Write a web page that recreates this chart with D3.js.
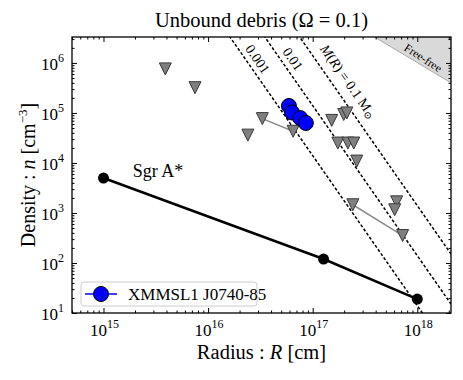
<!DOCTYPE html>
<html>
<head>
<meta charset="utf-8">
<script src="https://cdn.jsdelivr.net/npm/d3@7"></script>
<style>
  body { margin: 0; background: #fff; }
  text { font-family: "Liberation Serif", "DejaVu Serif", serif; }
</style>
</head>
<body>
<div id="chart"></div>
<script>
// Sgr A* density profile
var sgrR = [1e15, 1.27e17, 1e18];
var sgrN = [5e3, 120, 19];

// XMMSL1 J0740-85 points
var xmmR = [5.93e16, 6.34e16, 7.6e16, 8.6e16];
var xmmN = [1.38e5, 1.02e5, 7.9e4, 6.3e4];

// other TDEs (upper limits, grey triangles)
var limR = [3.9e15, 7.5e15, 2.4e16, 3.3e16, 6.5e16, 1.52e17, 1.98e17, 2.12e17,
            1.74e17, 2.17e17, 2.47e17, 2.64e17, 2.42e17, 7.24e17, 6.35e17, 6.08e17];
var limN = [7.6e5, 3.2e5, 3.6e4, 7.7e4, 4.3e4, 7.1e4, 9.3e4, 1.0e5,
            2.5e4, 2.5e4, 2.5e4, 1.09e4, 1.46e3, 354, 1.67e3, 1.16e3];
// pairs of triangles joined by a grey line (indices into limR/limN)
var limPairs = [[3, 4], [12, 13]];

// constant-mass lines, n at R = 1e17 cm (slope -3)
var massLabels = ["0.001", "0.01", "0.1"];
var massN17 = [1.4e4, 1.4e5, 1.4e6];
var massLabelR = [2.9e16, 6.3e16, 2.12e17];
var massLabelN = [1.15e6, 1.15e6, 4.1e5];

// free-free boundary
var ffR = [3.9e17, 2.1e18];
var ffN = [3.3e6, 4.0e5];

var xTicks = [1e15, 1e16, 1e17, 1e18];
var yTicks = [1e1, 1e2, 1e3, 1e4, 1e5, 1e6];

var ctx = {
    w: 463,
    h: 380,
    left: 72,
    right: 451,
    top: 37,
    bottom: 313,
};

var x = d3.scaleLog().domain([5e14, 2.1e18]).range([ctx.left, ctx.right]);
var y = d3.scaleLog().domain([10, 3.3e6]).range([ctx.bottom, ctx.top]);

var svg = d3.select("#chart").append("svg")
    .attr("width", ctx.w)
    .attr("height", ctx.h);

svg.append("defs").append("clipPath").attr("id", "plotclip")
    .append("rect")
    .attr("x", ctx.left).attr("y", ctx.top)
    .attr("width", ctx.right - ctx.left).attr("height", ctx.bottom - ctx.top);

var plot = svg.append("g").attr("clip-path", "url(#plotclip)");

// free-free shaded region
var dom = x.domain(), ydom = y.domain();
plot.append("path")
    .attr("d", "M" + x(ffR[0]) + "," + y(ffN[0]) +
               "L" + x(ffR[1]) + "," + y(ffN[1]) +
               "L" + x(ffR[1]) + "," + y(ydom[1]) + "Z")
    .attr("fill", "#d9d9d9")
    .attr("stroke", "#a8a8a8")
    .attr("stroke-width", 1);

plot.append("text")
    .attr("transform", "translate(" + x(1.12e18) + "," + y(1.2e6) + ") rotate(33)")
    .attr("text-anchor", "middle")
    .attr("dominant-baseline", "middle")
    .attr("font-size", "11.5px")
    .text("Free-free");

// constant-mass dashed lines
massN17.forEach(function(n17) {
    var r0 = dom[0], r1 = dom[1];
    plot.append("line")
        .attr("x1", x(r0)).attr("y1", y(n17 * Math.pow(r0 / 1e17, -3)))
        .attr("x2", x(r1)).attr("y2", y(n17 * Math.pow(r1 / 1e17, -3)))
        .attr("stroke", "black")
        .attr("stroke-width", 1.5)
        .attr("stroke-dasharray", "3,2");
});

massLabels.forEach(function(lab, i) {
    var t = svg.append("text")
        .attr("transform", "translate(" + x(massLabelR[i]) + "," + y(massLabelN[i]) + ") rotate(55)")
        .attr("text-anchor", "middle")
        .attr("dominant-baseline", "middle")
        .attr("font-size", "14px");
    if (i < 2) {
        t.text(lab);
    } else {
        t.append("tspan").attr("font-style", "italic").text("M");
        t.append("tspan").text("(");
        t.append("tspan").attr("font-style", "italic").text("R");
        t.append("tspan").text(") = 0.1 M");
        t.append("tspan").attr("font-size", "10px").attr("dy", 3).text("\u2299");
    }
});

// grey joining lines
limPairs.forEach(function(p) {
    plot.append("line")
        .attr("x1", x(limR[p[0]])).attr("y1", y(limN[p[0]]))
        .attr("x2", x(limR[p[1]])).attr("y2", y(limN[p[1]]))
        .attr("stroke", "#8c8c8c")
        .attr("stroke-width", 1.5);
});

// triangles (pointing down)
var tri = "M-6,-6L6,-6L0,6Z";
plot.selectAll(".lim")
    .data(d3.range(limR.length))
    .enter()
    .append("path")
    .attr("class", "lim")
    .attr("d", tri)
    .attr("transform", function(i) {
        return "translate(" + x(limR[i]) + "," + y(limN[i]) + ")";
    })
    .attr("fill", "#7f7f7f")
    .attr("stroke", "#3a3a3a")
    .attr("stroke-width", 1);

// Sgr A*
var sgrLine = d3.line().x(function(i) { return x(sgrR[i]); }).y(function(i) { return y(sgrN[i]); });
plot.append("path")
    .attr("d", sgrLine(d3.range(sgrR.length)))
    .attr("fill", "none")
    .attr("stroke", "black")
    .attr("stroke-width", 2.5);
plot.selectAll(".sgr")
    .data(d3.range(sgrR.length))
    .enter()
    .append("circle")
    .attr("class", "sgr")
    .attr("cx", function(i) { return x(sgrR[i]); })
    .attr("cy", function(i) { return y(sgrN[i]); })
    .attr("r", 5.5)
    .attr("fill", "black");

svg.append("text")
    .attr("x", x(1.9e15))
    .attr("y", y(5.2e3))
    .attr("font-size", "18px")
    .text("Sgr A*");

// XMMSL1 J0740-85
var xmmLine = d3.line().x(function(i) { return x(xmmR[i]); }).y(function(i) { return y(xmmN[i]); });
plot.append("path")
    .attr("d", xmmLine(d3.range(xmmR.length)))
    .attr("fill", "none")
    .attr("stroke", "#0000ff")
    .attr("stroke-width", 1.5);
plot.selectAll(".xmm")
    .data(d3.range(xmmR.length))
    .enter()
    .append("circle")
    .attr("class", "xmm")
    .attr("cx", function(i) { return x(xmmR[i]); })
    .attr("cy", function(i) { return y(xmmN[i]); })
    .attr("r", 7.5)
    .attr("fill", "#0000ff")
    .attr("stroke", "black")
    .attr("stroke-width", 1);

// axes: inward ticks on all four sides
var minorTicks = function(domain, e0, e1) {
    var out = [];
    for (var e = e0; e <= e1; e++) {
        for (var m = 2; m <= 9; m++) {
            var v = m * Math.pow(10, e);
            if (v >= domain[0] && v <= domain[1]) out.push(v);
        }
    }
    return out;
};

var addAxis = function(gen, scale, pos, major, minor) {
    var g = svg.append("g").attr("transform", pos);
    g.call(gen(scale).tickValues(major).tickSize(-5).tickFormat(""));
    g.append("g").call(gen(scale).tickValues(minor).tickSize(-2.5).tickFormat(""));
    g.selectAll(".domain").remove();
    g.selectAll("line").attr("stroke", "black").attr("stroke-width", 1);
    return g;
};

var xMinor = minorTicks(x.domain(), 14, 18);
var yMinor = minorTicks(y.domain(), 0, 6);
addAxis(d3.axisBottom, x, "translate(0," + ctx.bottom + ")", xTicks, xMinor);
addAxis(d3.axisTop, x, "translate(0," + ctx.top + ")", xTicks, xMinor);
addAxis(d3.axisLeft, y, "translate(" + ctx.left + ",0)", yTicks, yMinor);
addAxis(d3.axisRight, y, "translate(" + ctx.right + ",0)", yTicks, yMinor);

svg.append("rect")
    .attr("x", ctx.left).attr("y", ctx.top)
    .attr("width", ctx.right - ctx.left).attr("height", ctx.bottom - ctx.top)
    .attr("fill", "none")
    .attr("stroke", "black")
    .attr("stroke-width", 1.3);

// tick labels with superscripts
xTicks.forEach(function(v) {
    var t = svg.append("text")
        .attr("x", x(v) + 1)
        .attr("y", ctx.bottom + 23)
        .attr("text-anchor", "middle")
        .attr("font-size", "17px");
    t.append("tspan").text("10");
    t.append("tspan").attr("font-size", "12px").attr("dy", -8).text(Math.round(Math.log10(v)));
});
yTicks.forEach(function(v) {
    var t = svg.append("text")
        .attr("x", ctx.left - 8)
        .attr("y", y(v) + 7)
        .attr("text-anchor", "end")
        .attr("font-size", "17px");
    t.append("tspan").text("10");
    t.append("tspan").attr("font-size", "12px").attr("dy", -8).text(Math.round(Math.log10(v)));
});

// legend
var leg = svg.append("g").attr("transform", "translate(81,282)");
leg.append("rect")
    .attr("width", 176).attr("height", 24)
    .attr("rx", 3)
    .attr("fill", "white")
    .attr("fill-opacity", 0.8)
    .attr("stroke", "#cccccc");
leg.append("line")
    .attr("x1", 4).attr("x2", 36).attr("y1", 12).attr("y2", 12)
    .attr("stroke", "#0000ff").attr("stroke-width", 1.5);
leg.append("circle")
    .attr("cx", 20).attr("cy", 12).attr("r", 7.5)
    .attr("fill", "#0000ff").attr("stroke", "black");
leg.append("text")
    .attr("x", 47).attr("y", 17.5)
    .attr("font-size", "17px")
    .text("XMMSL1 J0740-85");

// title and axis labels
svg.append("text")
    .attr("x", (ctx.left + ctx.right) / 2)
    .attr("y", 27)
    .attr("text-anchor", "middle")
    .attr("font-size", "20.5px")
    .text("Unbound debris (\u03A9 = 0.1)");

var xl = svg.append("text")
    .attr("x", (ctx.left + ctx.right) / 2)
    .attr("y", 359)
    .attr("text-anchor", "middle")
    .attr("font-size", "20.5px");
xl.append("tspan").text("Radius : ");
xl.append("tspan").attr("font-style", "italic").text("R");
xl.append("tspan").text(" [cm]");

var yl = svg.append("text")
    .attr("transform", "translate(35," + ((ctx.top + ctx.bottom) / 2) + ") rotate(-90)")
    .attr("text-anchor", "middle")
    .attr("font-size", "20px");
yl.append("tspan").text("Density : ");
yl.append("tspan").attr("font-style", "italic").text("n");
yl.append("tspan").text(" [cm");
yl.append("tspan").attr("font-size", "13px").attr("dy", -8).text("\u22123");
yl.append("tspan").attr("dy", 8).text("]");
</script>
</body>
</html>
